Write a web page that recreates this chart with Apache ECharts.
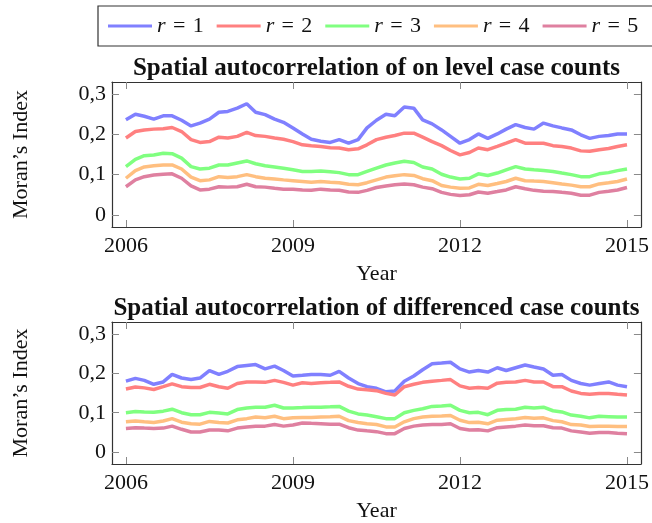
<!DOCTYPE html>
<html>
<head>
<meta charset="utf-8">
<script src="https://cdn.jsdelivr.net/npm/echarts@6/dist/echarts.min.js"></script>
<style>
  html, body { margin: 0; padding: 0; background: #fff; }
  #main { width: 652px; height: 523px; }
</style>
</head>
<body>
<div id="main"></div>
<script>
// sampling dates (decimal years, every two months)
var years = [
  2006.00, 2006.17, 2006.33, 2006.50, 2006.67, 2006.83,
  2007.00, 2007.17, 2007.33, 2007.50, 2007.67, 2007.83,
  2008.00, 2008.17, 2008.33, 2008.50, 2008.67, 2008.83,
  2009.00, 2009.17, 2009.33, 2009.50, 2009.67, 2009.83,
  2010.00, 2010.17, 2010.33, 2010.50, 2010.67, 2010.83,
  2011.00, 2011.17, 2011.33, 2011.50, 2011.67, 2011.83,
  2012.00, 2012.17, 2012.33, 2012.50, 2012.67, 2012.83,
  2013.00, 2013.17, 2013.33, 2013.50, 2013.67, 2013.83,
  2014.00, 2014.17, 2014.33, 2014.50, 2014.67, 2014.83,
  2015.00
];
var yearTicks = [2006, 2009, 2012, 2015];
var moranTicks = [0, 0.1, 0.2, 0.3];
var seriesNames = ['r = 1', 'r = 2', 'r = 3', 'r = 4', 'r = 5'];
var colors = ['#8080ff', '#ff8080', '#80ff80', '#ffbf80', '#df80a0'];

// on level case counts
var levelR1 = [0.236,0.250,0.245,0.238,0.246,0.246,0.235,0.221,0.228,0.238,0.255,0.257,0.265,0.276,0.255,0.249,0.238,0.230,
  0.216,0.201,0.188,0.183,0.180,0.187,0.178,0.187,0.216,0.235,0.250,0.246,0.268,0.265,0.236,0.226,0.211,0.195,
  0.178,0.187,0.201,0.190,0.201,0.213,0.224,0.217,0.213,0.228,0.221,0.216,0.211,0.199,0.190,0.195,0.197,0.201,0.201];
var levelR2 = [0.191,0.207,0.211,0.213,0.214,0.217,0.207,0.187,0.180,0.182,0.193,0.191,0.195,0.205,0.197,0.195,0.191,0.188,
  0.182,0.174,0.172,0.170,0.167,0.166,0.162,0.164,0.174,0.187,0.193,0.197,0.203,0.203,0.193,0.182,0.172,0.160,
  0.149,0.155,0.166,0.162,0.170,0.178,0.187,0.178,0.178,0.178,0.172,0.170,0.166,0.159,0.158,0.162,0.165,0.170,0.174];
var levelR3 = [0.120,0.138,0.147,0.149,0.153,0.152,0.141,0.120,0.114,0.116,0.124,0.124,0.129,0.134,0.127,0.122,0.119,0.116,
  0.112,0.108,0.108,0.109,0.107,0.105,0.100,0.100,0.108,0.116,0.124,0.129,0.133,0.130,0.119,0.114,0.101,0.094,
  0.089,0.091,0.102,0.098,0.104,0.112,0.120,0.114,0.112,0.110,0.108,0.104,0.100,0.095,0.095,0.102,0.105,0.110,0.114];
var levelR4 = [0.091,0.110,0.119,0.122,0.124,0.124,0.114,0.094,0.085,0.087,0.095,0.093,0.095,0.100,0.095,0.091,0.089,0.087,
  0.085,0.083,0.081,0.083,0.081,0.080,0.076,0.075,0.080,0.087,0.094,0.097,0.100,0.098,0.090,0.085,0.073,0.069,
  0.066,0.067,0.076,0.073,0.078,0.083,0.091,0.085,0.084,0.083,0.080,0.077,0.074,0.070,0.070,0.077,0.080,0.083,0.089];
var levelR5 = [0.070,0.087,0.095,0.099,0.101,0.102,0.091,0.072,0.062,0.064,0.070,0.069,0.070,0.076,0.070,0.069,0.066,0.064,
  0.064,0.062,0.061,0.064,0.062,0.061,0.057,0.056,0.061,0.068,0.072,0.075,0.077,0.075,0.069,0.065,0.056,0.051,
  0.048,0.050,0.057,0.054,0.058,0.062,0.070,0.065,0.061,0.059,0.058,0.056,0.054,0.049,0.049,0.056,0.059,0.062,0.068];

// differenced case counts
var diffR1 = [0.180,0.187,0.182,0.172,0.178,0.197,0.188,0.184,0.188,0.207,0.197,0.205,0.217,0.220,0.222,0.211,0.218,0.207,
  0.193,0.195,0.197,0.197,0.195,0.205,0.188,0.174,0.166,0.162,0.153,0.155,0.180,0.193,0.209,0.224,0.226,0.228,
  0.211,0.203,0.207,0.203,0.214,0.207,0.214,0.221,0.216,0.211,0.195,0.197,0.182,0.174,0.170,0.174,0.178,0.170,0.166];
var diffR2 = [0.160,0.165,0.163,0.159,0.166,0.173,0.166,0.164,0.164,0.172,0.166,0.162,0.174,0.178,0.178,0.177,0.182,0.177,
  0.170,0.176,0.174,0.176,0.177,0.178,0.167,0.160,0.158,0.156,0.149,0.145,0.166,0.172,0.177,0.180,0.182,0.184,
  0.168,0.162,0.164,0.162,0.175,0.177,0.178,0.182,0.178,0.178,0.166,0.166,0.155,0.149,0.147,0.149,0.149,0.147,0.145];
var diffR3 = [0.100,0.103,0.102,0.101,0.104,0.109,0.100,0.095,0.095,0.101,0.099,0.097,0.108,0.112,0.114,0.114,0.119,0.112,
  0.112,0.113,0.114,0.114,0.115,0.116,0.104,0.097,0.094,0.090,0.085,0.085,0.100,0.106,0.110,0.116,0.117,0.119,
  0.106,0.100,0.101,0.095,0.106,0.108,0.109,0.114,0.112,0.114,0.105,0.102,0.094,0.091,0.087,0.091,0.090,0.089,0.089];
var diffR4 = [0.077,0.079,0.077,0.075,0.079,0.085,0.076,0.072,0.071,0.078,0.075,0.074,0.082,0.085,0.089,0.087,0.091,0.085,
  0.087,0.088,0.088,0.089,0.090,0.091,0.080,0.075,0.072,0.070,0.064,0.064,0.077,0.085,0.089,0.091,0.092,0.093,
  0.081,0.075,0.076,0.072,0.081,0.083,0.085,0.088,0.086,0.087,0.080,0.077,0.070,0.069,0.065,0.066,0.066,0.065,0.065];
var diffR5 = [0.060,0.062,0.061,0.060,0.061,0.066,0.058,0.051,0.051,0.056,0.056,0.054,0.061,0.064,0.066,0.066,0.070,0.066,
  0.069,0.074,0.073,0.072,0.071,0.071,0.062,0.056,0.054,0.052,0.047,0.047,0.060,0.066,0.069,0.070,0.070,0.072,
  0.060,0.056,0.057,0.054,0.062,0.064,0.066,0.069,0.067,0.067,0.062,0.061,0.054,0.051,0.048,0.050,0.050,0.048,0.047];

var levelData = [levelR1, levelR2, levelR3, levelR4, levelR5];
var diffData = [diffR1, diffR2, diffR3, diffR4, diffR5];

var FONT = '"Liberation Serif", "DejaVu Serif", serif';
var frameColor = '#333';
var tickColor = '#8a8a8a';

function pairs(vals) {
    return years.map(function (y, i) { return [y, vals[i]]; });
}

function moranLabel(v) {
    return v === 0 ? '0' : v.toFixed(1).replace('.', ',');
}

function xAxes(grid, title) {
    return [{
        type: 'value', gridIndex: grid, position: 'bottom',
        min: 2005.75, max: 2015.25,
        axisLine: { show: true, onZero: false, lineStyle: { color: frameColor, width: 1.2 } },
        axisTick: { show: true, inside: true, length: 7, customValues: yearTicks, lineStyle: { color: tickColor } },
        axisLabel: { show: true, customValues: yearTicks, margin: 8, color: '#111', fontFamily: FONT, fontSize: 22,
            formatter: function (v) { return String(v); } },
        splitLine: { show: false },
        name: 'Year', nameLocation: 'middle', nameGap: 36,
        nameTextStyle: { color: '#111', fontFamily: FONT, fontSize: 22 }
    }, {
        type: 'value', gridIndex: grid, position: 'top',
        min: 2005.75, max: 2015.25,
        axisLine: { show: true, onZero: false, lineStyle: { color: frameColor, width: 1.2 } },
        axisTick: { show: true, inside: true, length: 7, customValues: yearTicks, lineStyle: { color: tickColor } },
        axisLabel: { show: false },
        splitLine: { show: false },
        name: title, nameLocation: 'middle', nameGap: 1,
        nameTextStyle: { color: '#111', fontFamily: FONT, fontSize: 25, fontWeight: 'bold' }
    }];
}

function yAxes(grid) {
    return [{
        type: 'value', gridIndex: grid, position: 'left',
        min: -0.03, max: 0.33,
        axisLine: { show: true, onZero: false, lineStyle: { color: frameColor, width: 1.2 } },
        axisTick: { show: true, inside: true, length: 7, customValues: moranTicks, lineStyle: { color: tickColor } },
        axisLabel: { show: true, customValues: moranTicks, margin: 6, color: '#111', fontFamily: FONT, fontSize: 22,
            formatter: moranLabel },
        splitLine: { show: false },
        name: 'Moran\u2019s Index', nameLocation: 'middle', nameGap: 80,
        nameTextStyle: { color: '#111', fontFamily: FONT, fontSize: 22 }
    }, {
        type: 'value', gridIndex: grid, position: 'right',
        min: -0.03, max: 0.33,
        axisLine: { show: true, onZero: false, lineStyle: { color: frameColor, width: 1.2 } },
        axisTick: { show: true, inside: true, length: 7, customValues: moranTicks, lineStyle: { color: tickColor } },
        axisLabel: { show: false },
        splitLine: { show: false }
    }];
}

var series = [];
levelData.forEach(function (vals, i) {
    series.push({
        name: seriesNames[i], type: 'line', xAxisIndex: 0, yAxisIndex: 0,
        data: pairs(vals), showSymbol: false, color: colors[i],
        lineStyle: { width: 3.5, color: colors[i] }
    });
});
diffData.forEach(function (vals, i) {
    series.push({
        name: seriesNames[i], type: 'line', xAxisIndex: 2, yAxisIndex: 2,
        data: pairs(vals), showSymbol: false, color: colors[i],
        lineStyle: { width: 3.5, color: colors[i] }
    });
});

var myChart = echarts.init(document.getElementById('main'));
var option = {
    animation: false,
    backgroundColor: '#fff',
    legend: {
        data: seriesNames,
        left: 98, top: 6, width: 620,
        icon: 'rect', itemWidth: 44, itemHeight: 3, itemGap: 13,
        padding: [9, 30, 9, 10],
        borderColor: frameColor, borderWidth: 1.2,
        // math-style spacing around "="
        formatter: function (name) { return '{i|r}\u2004=\u2004' + name.slice(4); },
        textStyle: {
            color: '#111', fontFamily: FONT, fontSize: 22, width: 48,
            rich: { i: { fontStyle: 'italic', fontFamily: FONT, fontSize: 22, color: '#111' } }
        }
    },
    grid: [
        { left: 112, top: 82, width: 530, height: 145 },
        { left: 112, top: 322, width: 530, height: 145 }
    ],
    xAxis: xAxes(0, 'Spatial autocorrelation of on level case counts')
        .concat(xAxes(1, 'Spatial autocorrelation of differenced case counts')),
    yAxis: yAxes(0).concat(yAxes(1)),
    series: series
};
myChart.setOption(option);
</script>
</body>
</html>
